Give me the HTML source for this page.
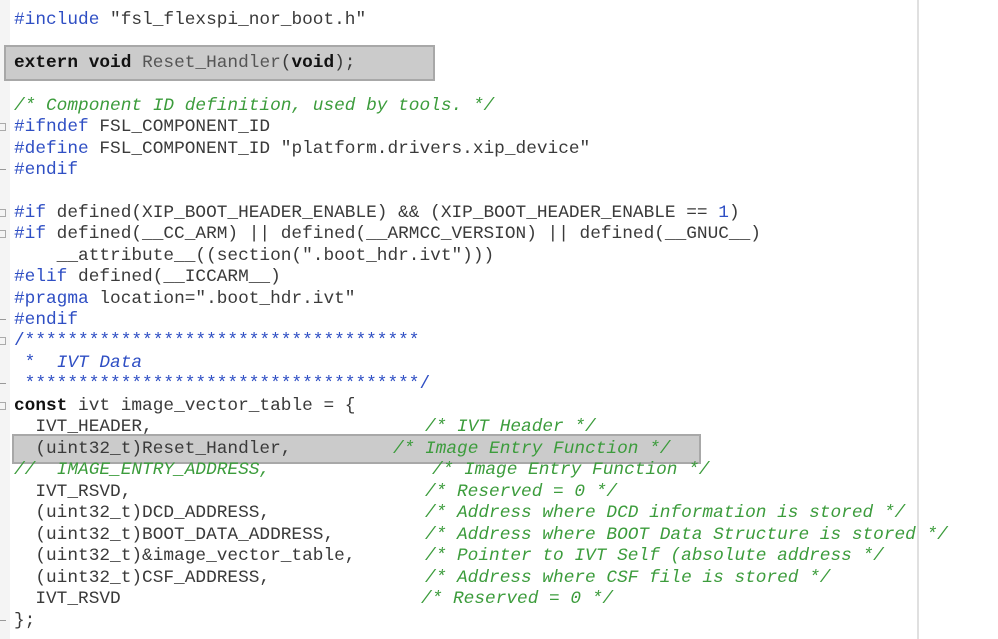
<!DOCTYPE html>
<html><head><meta charset="utf-8"><style>
body{margin:0;width:998px;height:639px;background:#fff;position:relative;overflow:hidden;font-family:"Liberation Mono",monospace;font-size:17.8px;color:#3a3a3a}
.l{position:absolute;white-space:pre;line-height:22px;height:22px;margin-top:1px}
.p{color:#2f4fc4}.c{color:#3c9c3c;font-style:italic}.k{font-weight:bold;color:#111}.g{color:#555}.n{color:#2f4fc4}
.box{position:absolute;background:#cbcbcb;border:2px solid #a8a8a8;box-sizing:border-box}
.f{position:absolute;left:0;width:6px;height:8px;border:1px solid #aaa;border-left:none;box-sizing:border-box}
.d{position:absolute;left:0;width:6px;height:1px;background:#999}
</style></head><body>
<div style="position:absolute;left:0;top:0;width:10px;height:639px;background:#f4f4f4"></div>
<div style="position:absolute;left:917px;top:0;width:2px;height:639px;background:#e0e0e0"></div>
<div class="box" style="left:4px;top:45px;width:431px;height:36px"></div>
<div class="box" style="left:12px;top:434px;width:689px;height:30px"></div>
<div class="f" style="top:123px"></div><div class="d" style="top:169px"></div>
<div class="f" style="top:209px"></div><div class="f" style="top:230px"></div><div class="d" style="top:319px"></div>
<div class="f" style="top:337px"></div><div class="d" style="top:383px"></div>
<div class="f" style="top:402px"></div><div class="d" style="top:620px"></div>

<div class="l" style="left:14px;top:8px"><span class="p">#include</span> "fsl_flexspi_nor_boot.h"</div>
<div class="l" style="left:14px;top:51px"><span class="k">extern</span> <span class="k">void</span> <span class="g">Reset_Handler</span>(<span class="k">void</span>);</div>
<div class="l" style="left:14px;top:94px"><span class="c">/* Component ID definition, used by tools. */</span></div>
<div class="l" style="left:14px;top:115px"><span class="p">#ifndef</span> FSL_COMPONENT_ID</div>
<div class="l" style="left:14px;top:137px"><span class="p">#define</span> FSL_COMPONENT_ID "platform.drivers.xip_device"</div>
<div class="l" style="left:14px;top:158px"><span class="p">#endif</span></div>
<div class="l" style="left:14px;top:201px"><span class="p">#if</span> defined(XIP_BOOT_HEADER_ENABLE) &amp;&amp; (XIP_BOOT_HEADER_ENABLE == <span class="n">1</span>)</div>
<div class="l" style="left:14px;top:222px"><span class="p">#if</span> defined(__CC_ARM) || defined(__ARMCC_VERSION) || defined(__GNUC__)</div>
<div class="l" style="left:14px;top:244px">    __attribute__((section(".boot_hdr.ivt")))</div>
<div class="l" style="left:14px;top:265px"><span class="p">#elif</span> defined(__ICCARM__)</div>
<div class="l" style="left:14px;top:287px"><span class="p">#pragma</span> location=".boot_hdr.ivt"</div>
<div class="l" style="left:14px;top:308px"><span class="p">#endif</span></div>
<div class="l" style="left:14px;top:329px"><span class="p">/*************************************</span></div>
<div class="l" style="left:14px;top:351px"><span class="p"> *  </span><span class="c" style="color:#2f4fc4">IVT Data</span></div>
<div class="l" style="left:14px;top:372px"><span class="p"> *************************************/</span></div>
<div class="l" style="left:14px;top:394px"><span class="k">const</span> ivt image_vector_table = {</div>
<div class="l" style="left:14px;top:415px">  IVT_HEADER,</div><div class="l c" style="left:425px;top:415px">/* IVT Header */</div>
<div class="l" style="left:14px;top:437px">  (uint32_t)Reset_Handler,</div><div class="l c" style="left:393px;top:437px">/* Image Entry Function */</div>
<div class="l c" style="left:14px;top:458px">//  IMAGE_ENTRY_ADDRESS,</div><div class="l c" style="left:432px;top:458px">/* Image Entry Function */</div>
<div class="l" style="left:14px;top:480px">  IVT_RSVD,</div><div class="l c" style="left:425px;top:480px">/* Reserved = 0 */</div>
<div class="l" style="left:14px;top:501px">  (uint32_t)DCD_ADDRESS,</div><div class="l c" style="left:425px;top:501px">/* Address where DCD information is stored */</div>
<div class="l" style="left:14px;top:523px">  (uint32_t)BOOT_DATA_ADDRESS,</div><div class="l c" style="left:425px;top:523px">/* Address where BOOT Data Structure is stored */</div>
<div class="l" style="left:14px;top:544px">  (uint32_t)&amp;image_vector_table,</div><div class="l c" style="left:425px;top:544px">/* Pointer to IVT Self (absolute address */</div>
<div class="l" style="left:14px;top:566px">  (uint32_t)CSF_ADDRESS,</div><div class="l c" style="left:425px;top:566px">/* Address where CSF file is stored */</div>
<div class="l" style="left:14px;top:587px">  IVT_RSVD</div><div class="l c" style="left:421px;top:587px">/* Reserved = 0 */</div>
<div class="l" style="left:14px;top:609px">};</div>
</body></html>
